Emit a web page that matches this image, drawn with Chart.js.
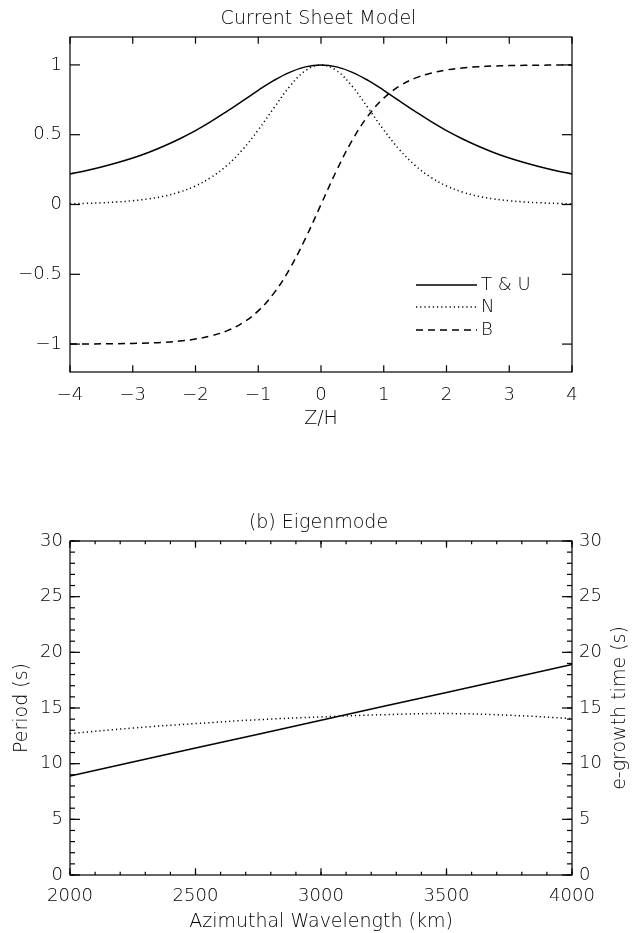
<!DOCTYPE html>
<html>
<head>
<meta charset="utf-8">
<script src="https://cdn.jsdelivr.net/npm/chart.js@4"></script>
<style>
    body { margin: 0; background: #fff; }
    .box { position: absolute; left: 0; width: 637px; }
</style>
</head>
<body>
<div class="box" style="top:0;height:466px"><canvas id="sheetChart" width="637" height="466"></canvas></div>
<div class="box" style="top:466px;height:467px"><canvas id="eigenChart" width="637" height="467"></canvas></div>
<script>
// Panel (a): current sheet profiles vs Z/H
const zValues = [-4, -3.75, -3.5, -3.25, -3, -2.75, -2.5, -2.25, -2, -1.75, -1.5, -1.25, -1, -0.75, -0.5, -0.25,
    0, 0.25, 0.5, 0.75, 1, 1.25, 1.5, 1.75, 2, 2.25, 2.5, 2.75, 3, 3.25, 3.5, 3.75, 4];
const tuValues = [0.219, 0.242, 0.269, 0.299, 0.333, 0.373, 0.419, 0.471, 0.529, 0.595, 0.667, 0.742, 0.818, 0.889, 0.947, 0.986,
    1.000, 0.986, 0.947, 0.889, 0.818, 0.742, 0.667, 0.595, 0.529, 0.471, 0.419, 0.373, 0.333, 0.299, 0.269, 0.242, 0.219];
const nValues = [0.005, 0.008, 0.012, 0.018, 0.027, 0.040, 0.060, 0.090, 0.133, 0.195, 0.280, 0.393, 0.534, 0.692, 0.845, 0.958,
    1.000, 0.958, 0.845, 0.692, 0.534, 0.393, 0.280, 0.195, 0.133, 0.090, 0.060, 0.040, 0.027, 0.018, 0.012, 0.008, 0.005];
const bValues = [-0.999, -0.999, -0.998, -0.997, -0.995, -0.992, -0.987, -0.978, -0.964, -0.941, -0.905, -0.848, -0.762, -0.635, -0.462, -0.245,
    0.000, 0.245, 0.462, 0.635, 0.762, 0.848, 0.905, 0.941, 0.964, 0.978, 0.987, 0.992, 0.995, 0.997, 0.998, 0.999, 0.999];
const zTicks = [-4, -3, -2, -1, 0, 1, 2, 3, 4];
const sheetTicks = [-1, -0.5, 0, 0.5, 1];
const sheetLabels = ['T & U', 'N', 'B'];

// Panel (b): eigenmode period and growth time vs wavelength
const wavelengths = [2000, 2250, 2500, 2750, 3000, 3250, 3500, 3750, 4000];
const periodValues = [8.9, 10.15, 11.4, 12.65, 13.9, 15.15, 16.4, 17.65, 18.9];
const growthValues = [12.7, 13.2, 13.6, 13.95, 14.2, 14.4, 14.5, 14.35, 14.05];
const wavelengthTicks = [2000, 2500, 3000, 3500, 4000];
const timeTicks = [0, 5, 10, 15, 20, 25, 30];

const FONT = "'DejaVu Sans', sans-serif";
const tickFont = { family: FONT, size: 18, weight: '200' };
const titleFont = { family: FONT, size: 19, weight: '200' };
const minus = (v) => String(v).replace('-', '\u2212');

// IDL-style box with inward ticks on all four sides
const idlFrame = {
    id: 'idlFrame',
    afterDatasetsDraw(chart, args, opts) {
        const { ctx, chartArea: { left, right, top, bottom } } = chart;
        const xs = chart.scales.x, ys = chart.scales.y;
        const xLen = (bottom - top) * 0.02, yLen = (right - left) * 0.02;
        const line = (x1, y1, x2, y2) => { ctx.beginPath(); ctx.moveTo(x1, y1); ctx.lineTo(x2, y2); ctx.stroke(); };
        ctx.save();
        ctx.strokeStyle = '#000';
        ctx.lineWidth = 1.2;
        ctx.strokeRect(left, top, right - left, bottom - top);
        const xt = (v, len) => { const p = xs.getPixelForValue(v); line(p, bottom, p, bottom - len); line(p, top, p, top + len); };
        const yt = (v, len) => { const p = ys.getPixelForValue(v); line(left, p, left + len, p); line(right, p, right - len, p); };
        (opts.xMinor || []).forEach(v => xt(v, xLen / 2));
        (opts.yMinor || []).forEach(v => yt(v, yLen / 2));
        opts.xMajor.forEach(v => xt(v, xLen));
        opts.yMajor.forEach(v => yt(v, yLen));
        // right-hand axis title reads bottom-to-top like the left one
        if (opts.rightTitle) {
            ctx.translate(opts.rightTitleX, (top + bottom) / 2);
            ctx.rotate(-Math.PI / 2);
            ctx.fillStyle = '#000';
            ctx.font = `200 19px ${FONT}`;
            ctx.textAlign = 'center';
            ctx.textBaseline = 'middle';
            ctx.fillText(opts.rightTitle, 0, 0);
        }
        ctx.restore();
    }
};

// Line-sample legend drawn inside the plot, as in the original
const sampleLegend = {
    id: 'sampleLegend',
    afterDatasetsDraw(chart) {
        const { ctx } = chart;
        const rows = [285, 307, 330];
        ctx.save();
        chart.data.datasets.forEach((ds, i) => {
            ctx.strokeStyle = '#000';
            ctx.lineWidth = ds.borderWidth;
            ctx.setLineDash(ds.borderDash || []);
            ctx.beginPath();
            ctx.moveTo(416, rows[i]);
            ctx.lineTo(477, rows[i]);
            ctx.stroke();
            ctx.setLineDash([]);
            ctx.fillStyle = '#000';
            ctx.font = `200 18px ${FONT}`;
            ctx.textBaseline = 'middle';
            ctx.fillText(ds.label, 481, rows[i]);
        });
        ctx.restore();
    }
};

const pairs = (xs, ys) => xs.map((x, i) => ({ x, y: ys[i] }));
const fixTicks = (list) => (scale) => { scale.ticks = list.map(v => ({ value: v })); };

new Chart(document.getElementById('sheetChart').getContext('2d'), {
    type: 'line',
    plugins: [idlFrame, sampleLegend],
    data: {
        datasets: [
            { label: sheetLabels[0], data: pairs(zValues, tuValues), borderColor: '#000', borderWidth: 1.5, pointRadius: 0, tension: 0.4 },
            { label: sheetLabels[1], data: pairs(zValues, nValues), borderColor: '#000', borderWidth: 1.5, borderDash: [1.2, 3], pointRadius: 0, tension: 0.4 },
            { label: sheetLabels[2], data: pairs(zValues, bValues), borderColor: '#000', borderWidth: 1.5, borderDash: [7, 5], pointRadius: 0, tension: 0.4 }
        ]
    },
    options: {
        responsive: false,
        animation: false,
        layout: { padding: 0 },
        plugins: {
            legend: { display: false },
            tooltip: { enabled: false },
            title: {
                display: true, text: 'Current Sheet Model', color: '#000', font: titleFont,
                padding: { top: 7.6, bottom: 6.6 }
            },
            idlFrame: { xMajor: zTicks, yMajor: sheetTicks }
        },
        scales: {
            x: {
                type: 'linear', min: -4, max: 4,
                afterBuildTicks: fixTicks(zTicks),
                afterFit: (s) => { s.height = 94; },
                grid: { display: false, drawTicks: false },
                border: { display: false },
                ticks: { color: '#000', font: tickFont, padding: 13, autoSkip: false, maxRotation: 0, callback: minus },
                title: { display: true, text: 'Z/H', color: '#000', font: titleFont, padding: { top: 0, bottom: 35.6 } }
            },
            y: {
                min: -1.2, max: 1.2,
                afterBuildTicks: fixTicks(sheetTicks),
                afterFit: (s) => { s.width = 70; },
                grid: { display: false, drawTicks: false },
                border: { display: false },
                ticks: { color: '#000', font: tickFont, padding: 8, autoSkip: false, callback: minus }
            },
            // empty right-hand axis that only reserves the margin
            yRight: {
                position: 'right', min: -1.2, max: 1.2,
                afterFit: (s) => { s.width = 65; },
                grid: { display: false, drawTicks: false },
                border: { display: false },
                ticks: { display: false }
            }
        }
    }
});

new Chart(document.getElementById('eigenChart').getContext('2d'), {
    type: 'line',
    plugins: [idlFrame],
    data: {
        datasets: [
            { label: 'Period', data: pairs(wavelengths, periodValues), yAxisID: 'y', borderColor: '#000', borderWidth: 1.5, pointRadius: 0 },
            { label: 'e-growth time', data: pairs(wavelengths, growthValues), yAxisID: 'y2', borderColor: '#000', borderWidth: 1.5, borderDash: [1.2, 3], pointRadius: 0, tension: 0.4 }
        ]
    },
    options: {
        responsive: false,
        animation: false,
        layout: { padding: 0 },
        plugins: {
            legend: { display: false },
            tooltip: { enabled: false },
            title: {
                display: true, text: '(b) Eigenmode', color: '#000', font: titleFont,
                padding: { top: 45.6, bottom: 6.6 }
            },
            idlFrame: {
                xMajor: wavelengthTicks, yMajor: timeTicks,
                xMinor: Array.from({ length: 21 }, (_, i) => 2000 + i * 100),
                yMinor: Array.from({ length: 31 }, (_, i) => i),
                rightTitle: 'e-growth time (s)', rightTitleX: 620
            }
        },
        scales: {
            x: {
                type: 'linear', min: 2000, max: 4000,
                afterBuildTicks: fixTicks(wavelengthTicks),
                afterFit: (s) => { s.height = 58; },
                grid: { display: false, drawTicks: false },
                border: { display: false },
                ticks: { color: '#000', font: tickFont, padding: 11, autoSkip: false, maxRotation: 0, callback: (v) => String(v) },
                title: { display: true, text: 'Azimuthal Wavelength (km)', color: '#000', font: titleFont, padding: { top: 0, bottom: 0 } }
            },
            y: {
                position: 'left', min: 0, max: 30,
                afterBuildTicks: fixTicks(timeTicks),
                afterFit: (s) => { s.width = 70; },
                grid: { display: false, drawTicks: false },
                border: { display: false },
                ticks: { color: '#000', font: tickFont, padding: 7, autoSkip: false },
                title: { display: true, text: 'Period (s)', color: '#000', font: titleFont, padding: { top: 10.6, bottom: 0 } }
            },
            y2: {
                position: 'right', min: 0, max: 30,
                afterBuildTicks: fixTicks(timeTicks),
                afterFit: (s) => { s.width = 65; },
                grid: { display: false, drawTicks: false },
                border: { display: false },
                ticks: { color: '#000', font: tickFont, padding: 7, autoSkip: false }
            }
        }
    }
});
</script>
</body>
</html>
